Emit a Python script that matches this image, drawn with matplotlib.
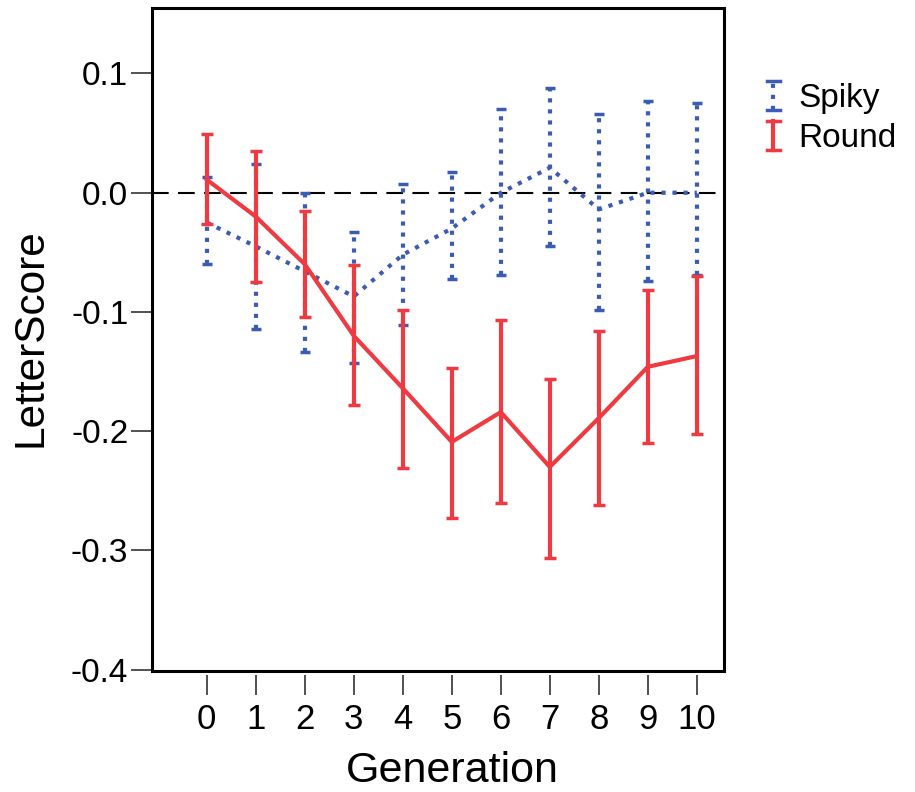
import matplotlib.pyplot as plt
from matplotlib.legend_handler import HandlerBase
from matplotlib.lines import Line2D
from matplotlib.patches import Rectangle

plt.rcParams['font.family'] = ['Liberation Sans', 'DejaVu Sans']

generation = [0, 1, 2, 3, 4, 5, 6, 7, 8, 9, 10]

# Spiky: mean and CI bounds
spiky_mean = [-0.025, -0.045, -0.066, -0.087, -0.052, -0.030, 0.000, 0.021, -0.014, 0.000, 0.000]
spiky_hi = [0.013, 0.024, 0.000, -0.033, 0.007, 0.017, 0.070, 0.088, 0.066, 0.077, 0.075]
spiky_lo = [-0.060, -0.114, -0.134, -0.143, -0.111, -0.072, -0.069, -0.045, -0.098, -0.074, -0.069]

# Round: mean and CI bounds
round_mean = [0.011, -0.020, -0.060, -0.120, -0.164, -0.209, -0.184, -0.230, -0.189, -0.146, -0.137]
round_hi = [0.049, 0.035, -0.015, -0.061, -0.098, -0.147, -0.107, -0.156, -0.116, -0.082, -0.070]
round_lo = [-0.026, -0.075, -0.104, -0.178, -0.231, -0.273, -0.260, -0.306, -0.262, -0.210, -0.202]

blue = '#3c5cb4'
red = '#ee3a40'

fig = plt.figure(figsize=(9.15, 7.92), dpi=100)
ax = fig.add_axes([0.166, 0.153, 0.625, 0.837])

ax.axhline(0, color='black', lw=1.5, dashes=(8, 4.5), zorder=1)

def draw(mean, lo, hi, color, ls, capsize, zo):
    err = [[m - l for m, l in zip(mean, lo)], [h - m for m, h in zip(mean, hi)]]
    cont = ax.errorbar(generation, mean, yerr=err, color=color, lw=3, linestyle=ls,
                       elinewidth=3, capsize=capsize, capthick=2.5, zorder=zo)
    for bl in cont[2]:
        bl.set_linestyle(ls)
    return cont

draw(spiky_mean, spiky_lo, spiky_hi, blue, ':', 3.5, 2)
draw(round_mean, round_lo, round_hi, red, '-', 4.5, 3)

ax.set_xlim(-1.12, 10.55)
ax.set_ylim(-0.401, 0.155)
ax.set_xticks(generation)
ax.set_yticks([0.1, 0.0, -0.1, -0.2, -0.3, -0.4])
ax.set_yticklabels(['0.1', '0.0', '-0.1', '-0.2', '-0.3', '-0.4'])

for s in ax.spines.values():
    s.set_visible(False)
ax.spines['bottom'].set_position(('outward', 3))
ax.add_patch(Rectangle((0, 0), 1, 1, transform=ax.transAxes, fill=False,
                       lw=2.2, ec='black', clip_on=False, zorder=5))

ax.tick_params(axis='both', width=1.2, color='#333333')
ax.tick_params(axis='y', length=15, pad=2, labelsize=24)
ax.tick_params(axis='x', length=14.5, pad=6, labelsize=25)

ax.set_xlabel('Generation', fontsize=31)
ax.xaxis.set_label_coords(0.5245, -0.121)
ax.set_ylabel('LetterScore', fontsize=30.5)
ax.yaxis.set_label_coords(-0.178, 0.503)


class IHandler(HandlerBase):
    def create_artists(self, legend, orig_handle, xdescent, ydescent,
                       width, height, fontsize, trans):
        c = orig_handle.get_color()
        ls = orig_handle.get_linestyle()
        x = width / 2 - xdescent
        mid = height / 2 - ydescent
        half = 10.5
        cw = 4.5
        v = Line2D([x, x], [mid - half, mid + half], color=c, lw=3, linestyle=ls, transform=trans)
        t = Line2D([x - cw, x + cw], [mid + half, mid + half], color=c, lw=2.5, transform=trans)
        b = Line2D([x - cw, x + cw], [mid - half, mid - half], color=c, lw=2.5, transform=trans)
        return [v, t, b]


h1 = Line2D([], [], color=blue, linestyle=':')
h2 = Line2D([], [], color=red, linestyle='-')
ax.legend([h1, h2], ['Spiky', 'Round'], loc='upper left',
          bbox_to_anchor=(760 / 915, 1 - 83 / 792), bbox_transform=fig.transFigure,
          frameon=False, fontsize=24, handlelength=0.8, handletextpad=0.35,
          labelspacing=0.28, borderaxespad=0.0, borderpad=0.0,
          handler_map={Line2D: IHandler()})

fig.savefig('out.png', dpi=100)
